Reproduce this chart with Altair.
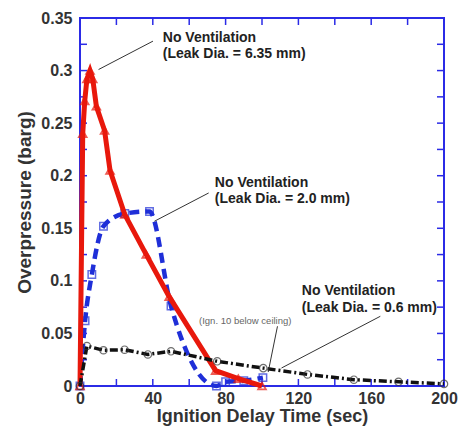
import altair as alt
import pandas as pd

# --- data ---
red_x = [0, 1.5, 2.6, 3.8, 5.5, 7.0, 9.0, 13.5, 16.5, 24.6, 36.4, 49.0, 74.5, 87.0, 100.0]
red_y = [0, 0.240, 0.271, 0.292, 0.300, 0.292, 0.266, 0.243, 0.205, 0.163, 0.125, 0.085, 0.0146, 0.007, 0.0]

blue_x = [0, 2.8, 6.5, 12.9, 24.6, 38.2, 50.0, 75.0, 80.0, 90.0, 100.5]
blue_y = [0, 0.062, 0.106, 0.152, 0.164, 0.166, 0.076, 0.0, 0.004, 0.005, 0.008]

black_x = [0, 3.8, 12.9, 24.5, 37.3, 50.0, 75.4, 100.7, 125.0, 150.5, 175.0, 200.0]
black_y = [0, 0.038, 0.034, 0.0345, 0.030, 0.033, 0.0235, 0.017, 0.011, 0.006, 0.004, 0.002]

x_ticks = list(range(0, 201, 20))
y_ticks = [round(i * 0.025, 3) for i in range(15)]
x_labels = [0, 40, 80, 120, 160, 200]
y_labels = [0, 0.05, 0.1, 0.15, 0.2, 0.25, 0.3, 0.35]

ann_x = [45.5, 45.5, 74.1, 74.1, 121.9, 121.9]
ann_y = [0.331, 0.316, 0.193, 0.178, 0.0907, 0.0742]
ann_text = ["No Ventilation", "(Leak Dia. = 6.35 mm)",
            "No Ventilation", "(Leak Dia. = 2.0 mm)",
            "No Ventilation", "(Leak Dia. = 0.6 mm)"]

note_x = [65.4]
note_y = [0.0621]
note_text = ["(Ign. 10 below ceiling)"]

lead_x1 = [40.1, 70.7, 165.0, 108.5]
lead_y1 = [0.328, 0.1836, 0.0663, 0.0568]
lead_x2 = [10.2, 40.9, 110.7, 103.4]
lead_y2 = [0.301, 0.1567, 0.0171, 0.0133]

W, H = 364, 368
FONT = "Liberation Sans"
RED = "#e8180c"
BLUE = "#1f2fd8"
FRAME = "#2b2be6"

xs = alt.Scale(domain=[0, 200], nice=False, zero=False)
ys = alt.Scale(domain=[0, 0.35], nice=False, zero=False)

xax = alt.Axis(values=x_labels, ticks=False, domain=False, grid=False, format="d",
               labelFont=FONT, labelFontSize=16, labelFontWeight="bold",
               labelColor="#333", labelPadding=4, labelFlush=False,
               title="Ignition Delay Time (sec)", titleFont=FONT,
               titleFontSize=18, titleFontWeight="bold", titleColor="#333",
               titlePadding=1)
yax = alt.Axis(values=y_labels, ticks=False, domain=False, grid=False, format="~r",
               labelFont=FONT, labelFontSize=16, labelFontWeight="bold",
               labelColor="#333", labelPadding=8, labelFlush=False,
               title="Overpressure (barg)", titleFont=FONT,
               titleFontSize=19, titleFontWeight="bold", titleColor="#333",
               titlePadding=6)

def series_df(xv, yv):
    return pd.DataFrame({"x": xv, "y": yv})

base_red = alt.Chart(series_df(red_x, red_y))
base_blue = alt.Chart(series_df(blue_x, blue_y))
base_black = alt.Chart(series_df(black_x, black_y))

enc = dict(x=alt.X("x:Q", scale=xs, axis=xax), y=alt.Y("y:Q", scale=ys, axis=yax))
enc2 = dict(x=alt.X("x:Q", scale=xs), y=alt.Y("y:Q", scale=ys))

blue_line = base_blue.mark_line(color=BLUE, strokeWidth=4.5, strokeDash=[10, 6],
                                interpolate="monotone").encode(**enc)
blue_pts = base_blue.mark_point(shape="square", filled=False, color=BLUE,
                                strokeWidth=1.5, size=55).encode(**enc2)
red_line = base_red.mark_line(color=RED, strokeWidth=5,
                              interpolate="linear").encode(**enc2)
red_pts = base_red.mark_point(shape="triangle-up", filled=False, color=RED,
                              strokeWidth=1.8, size=60).encode(**enc2)
black_line = base_black.mark_line(color="#111", strokeWidth=3.5,
                                  strokeDash=[8, 3, 2, 3]).encode(**enc2)
black_pts = base_black.mark_point(shape="circle", filled=False, color="#333",
                                  strokeWidth=1.2, size=55).encode(**enc2)

xt = alt.Chart(pd.DataFrame({"t": x_ticks}))
yt = alt.Chart(pd.DataFrame({"t": y_ticks}))
tick_bottom = xt.mark_rule(color=FRAME, strokeWidth=1.5).encode(
    x=alt.X("t:Q", scale=xs), y=alt.value(H), y2=alt.value(H - 7))
tick_top = xt.mark_rule(color=FRAME, strokeWidth=1.5).encode(
    x=alt.X("t:Q", scale=xs), y=alt.value(0), y2=alt.value(7))
tick_left = yt.mark_rule(color=FRAME, strokeWidth=1.5).encode(
    y=alt.Y("t:Q", scale=ys), x=alt.value(0), x2=alt.value(7))
tick_right = yt.mark_rule(color=FRAME, strokeWidth=1.5).encode(
    y=alt.Y("t:Q", scale=ys), x=alt.value(W - 7), x2=alt.value(W))

leaders = alt.Chart(pd.DataFrame({"x1": lead_x1, "y1": lead_y1,
                                  "x2": lead_x2, "y2": lead_y2})).mark_rule(
    color="#333", strokeWidth=1).encode(
    x=alt.X("x1:Q", scale=xs), y=alt.Y("y1:Q", scale=ys), x2="x2:Q", y2="y2:Q")

ann = alt.Chart(pd.DataFrame({"x": ann_x, "y": ann_y, "t": ann_text})).mark_text(
    align="left", baseline="middle", font=FONT, fontSize=14, fontWeight="bold",
    color="#222").encode(x=alt.X("x:Q", scale=xs), y=alt.Y("y:Q", scale=ys), text="t:N")
note = alt.Chart(pd.DataFrame({"x": note_x, "y": note_y, "t": note_text})).mark_text(
    align="left", baseline="middle", font=FONT, fontSize=9.5,
    color="#666").encode(x=alt.X("x:Q", scale=xs), y=alt.Y("y:Q", scale=ys), text="t:N")

chart = alt.layer(
    blue_line, tick_bottom, tick_top, tick_left, tick_right,
    blue_pts, red_line, red_pts, black_line, black_pts, leaders, ann, note
).properties(
    width=W, height=H,
    autosize=alt.AutoSizeParams(type="none"),
    padding={"left": 72, "top": 10, "right": 14, "bottom": 40},
    background="white"
).configure_view(stroke=FRAME, strokeWidth=2)

chart.save("out.html", embed_options={"renderer": "svg", "actions": False})
